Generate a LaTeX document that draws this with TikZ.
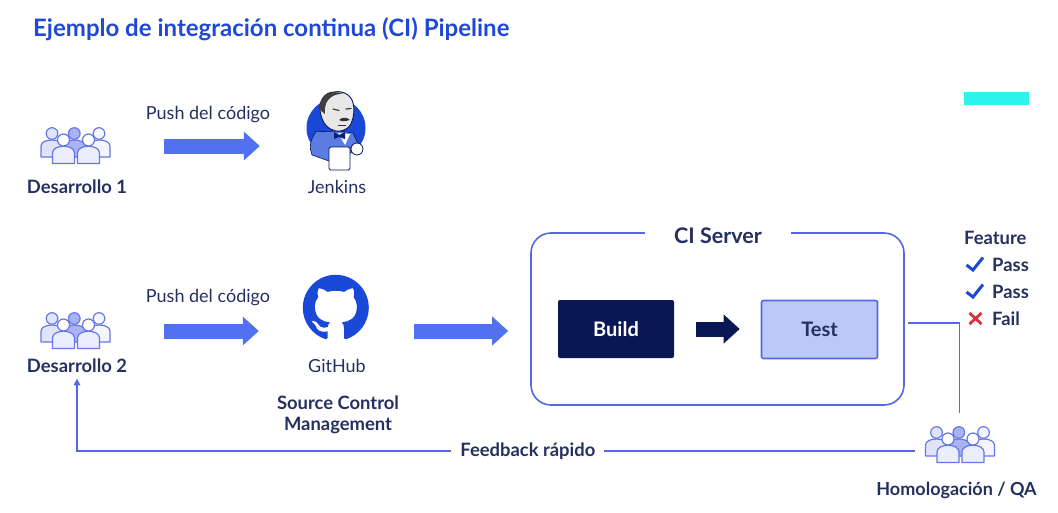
\documentclass[tikz,border=0pt]{standalone}
\usepackage{fontspec}
\setmainfont{Lato}
\usetikzlibrary{arrows.meta, svg.path}

\definecolor{navy}{HTML}{0A1755}
\definecolor{inktext}{HTML}{25305F}
\definecolor{titleblue}{HTML}{1F48D6}
\definecolor{edgeblue}{HTML}{5468E4}
\definecolor{arrowblue}{HTML}{5270F2}
\definecolor{testfill}{HTML}{BCC8F7}
\definecolor{hubblue}{HTML}{1A49D8}
\definecolor{teal}{HTML}{2EF5EC}
\definecolor{failred}{HTML}{D8323A}

\tikzset{
    crowdbody/.style={draw=edgeblue!90, line width=1.2pt, line join=round},
    pics/crowd/.style={code={
        % back row
        \foreach \px/\pfill in {-23/edgeblue!18, 24/edgeblue!6, -0.7/edgeblue!50}{
            \draw[crowdbody, fill=\pfill] (\px-11,11) -- (\px-11,0) .. controls (\px-11,-8) and (\px+11,-8) .. (\px+11,0) -- (\px+11,11) -- cycle;
            \draw[crowdbody, fill=\pfill] (\px,-12.5) circle (5.8);
        }
        % front row
        \foreach \px in {-11.5, 13.5}{
            \draw[crowdbody, fill=white!88!edgeblue] (\px-11,17.5) -- (\px-11,7) .. controls (\px-11,-2) and (\px+11,-2) .. (\px+11,7) -- (\px+11,17.5) -- cycle;
            \draw[crowdbody, fill=white] (\px,-6) circle (6);
        }
    }},
    pics/butler/.style={code={
        \fill[hubblue] (0,0) circle (29.5);
        % jacket
        \draw[navy, line width=.6pt, fill=hubblue!72!white] (-20,3.7) .. controls (-26,12) and (-27,20) .. (-24,27) -- (-7,33) -- (23,18) -- (17,5) -- (4,3) -- cycle;
        % head
        \draw[navy, line width=.9pt, fill=black!9] (-2,-36) .. controls (-12,-36) and (-17,-26) .. (-16,-18) .. controls (-15,-8) and (-10,0) .. (-3,2) .. controls (3,5) and (14,2) .. (16,-7) .. controls (19,-15) and (19,-28) .. (12,-33) .. controls (8,-36) and (3,-37) .. (-2,-36) -- cycle;
        % hair
        \fill[black!75] (-2,-36) .. controls (-12,-36) and (-17,-26) .. (-16,-18) -- (-11,-14) .. controls (-12,-22) and (-10,-29) .. (-1,-33) -- (8,-35) -- cycle;
        \draw[black!80, line width=1.2pt, line cap=round] (-3,-19) -- (3,-17.5) (10,-19) -- (15,-19.5);
        \fill[black!80] (3,-8) .. controls (6,-11) and (11,-11) .. (14,-8) .. controls (10,-7) and (7,-6) .. (3,-8) -- cycle;
        \draw[black!80, line width=.8pt] (2,-3) -- (10,-3);
        % shirt and tie
        \fill[white] (2,5) -- (14,6) -- (9,17) -- cycle;
        \fill[navy!80!hubblue] (-2,4) -- (3,7) -- (9,4) -- (9,11) -- (3,9) -- (-2,11) -- cycle;
        % hand and mug
        \draw[navy, line width=.8pt, fill=white] (21,21) circle (6);
        \draw[navy, line width=.9pt, fill=white, rounded corners=1.5pt] (-7,19) -- (14,19) -- (14,42) -- (-7,42) -- cycle;
    }},
    pics/passmark/.style={code={
        \draw[hubblue, line width=3pt] (-8.5,1) -- (-2,6) -- (8,-6.5);
    }},
    pics/failmark/.style={code={
        \draw[failred, line width=2.8pt] (-6,-5.5) -- (6,5.5) (-6,5.5) -- (6,-5.5);
    }},
}

\begin{document}
\begin{tikzpicture}[x=1pt, y=-1pt, every node/.style={font=\fontsize{18}{21}\selectfont, text=inktext}]
    % Styles
    \tikzstyle{iconbox} = [minimum width=70pt, minimum height=36pt, inner sep=0pt]
    \tikzstyle{caption} = [font=\fontsize{18.4}{21}\selectfont\bfseries, align=center]
    \tikzstyle{bigarrow} = [-{Triangle[length=16pt, width=28pt]}, line width=15pt, arrowblue]
    \tikzstyle{thinline} = [line width=1.6pt, edgeblue]
    \tikzstyle{stagebox} = [minimum width=116pt, minimum height=58pt, rounded corners=2pt, font=\fontsize{20}{23}\selectfont\bfseries]

    \useasboundingbox (0,0) rectangle (1058,512);

    \node[font=\fontsize{24}{28}\selectfont\bfseries, text=titleblue, anchor=west, inner sep=0pt] (title) at (33,29) {Ejemplo de integración continua (CI) Pipeline};
    \fill[teal] (964,92) rectangle (1029,105);

    % Row of Desarrollo 1
    \node[iconbox] (dev1) at (75,146) {};
    \pic at (dev1) {crowd};
    \node[caption] (dev1label) at (77,187) {Desarrollo 1};
    \node (push1) at (208,115) {Push del código};
    \node[minimum width=60pt, minimum height=60pt, inner sep=0pt] (jenkins) at (336,128) {};
    \pic at (jenkins) {butler};
    \node (jenkinslabel) at (337,187) {Jenkins};

    % Row of Desarrollo 2
    \node[iconbox] (dev2) at (75,331) {};
    \pic at (dev2) {crowd};
    \node[caption] (dev2label) at (77,366) {Desarrollo 2};
    \node (push2) at (208,298) {Push del código};
    \node[minimum width=66pt, minimum height=66pt, inner sep=0pt] (github) at (336,308) {};
    \begin{scope}[shift={(github.north west)}, scale=4.125, yscale=-1]
        \fill[hubblue] svg {M8 0C3.58 0 0 3.58 0 8c0 3.54 2.29 6.53 5.47 7.59.4.07.55-.17.55-.38 0-.19-.01-.82-.01-1.49-2.01.37-2.53-.49-2.69-.94-.09-.23-.48-.94-.82-1.13-.28-.15-.68-.52-.01-.53.63-.01 1.08.58 1.23.82.72 1.21 1.87.87 2.33.66.07-.52.28-.87.51-1.07-1.78-.2-3.64-.89-3.64-3.95 0-.87.31-1.59.82-2.15-.08-.2-.36-1.02.08-2.12 0 0 .67-.21 2.2.82.64-.18 1.32-.27 2-.27.68 0 1.36.09 2 .27 1.53-1.04 2.2-.82 2.2-.82.44 1.1.16 1.92.08 2.12.51.56.82 1.27.82 2.15 0 3.07-1.87 3.75-3.65 3.95.29.25.54.73.54 1.48 0 1.07-.01 1.93-.01 2.2 0 .21.15.46.55.38C13.71 14.53 16 11.53 16 8c0-4.42-3.58-8-8-8z};
    \end{scope}
    \node (githublabel) at (337,366) {GitHub};
    \node[caption] (scmlabel) at (338,415) {Source Control\\Management};

    % CI Server
    \node[draw=edgeblue, line width=1.6pt, rounded corners=20pt, minimum width=373pt, minimum height=172pt, inner sep=0pt] (ciserver) at (717.5,319) {};
    \node[fill=white, font=\fontsize{21.5}{25}\selectfont\bfseries, minimum width=146pt, inner sep=2pt] (cititle) at (718,235.5) {CI Server};
    \node[stagebox, fill=navy, text=white] (build) at (616,329) {Build};
    \node[stagebox, fill=testfill, draw=edgeblue, line width=1.6pt] (test) at (819.5,329.5) {Test};

    % Arrows
    \draw[bigarrow, shorten <=54pt, shorten >=46pt] (dev1.east) -- (dev1.east -| jenkins.west);
    \draw[bigarrow, shorten <=54pt, shorten >=44pt] (dev2.east) -- (dev2.east -| github.west);
    \draw[bigarrow, shorten <=45pt, shorten >=22pt] (dev2.east -| github.east) -- (dev2.east -| ciserver.west);
    \draw[bigarrow, navy, shorten <=22pt, shorten >=21pt] (build.east) -- (build.east -| test.west);

    % Feature results
    \node[caption, anchor=west, inner sep=0pt] (feature) at (964,238) {Feature};
    \node[anchor=west, inner sep=0pt, font=\fontsize{18.4}{21}\selectfont\bfseries] (pass1) at (992,265) {Pass};
    \node[anchor=west, inner sep=0pt, font=\fontsize{18.4}{21}\selectfont\bfseries] (pass2) at (992,292) {Pass};
    \node[anchor=west, inner sep=0pt, font=\fontsize{18.4}{21}\selectfont\bfseries] (fail) at (992,319) {Fail};
    \pic at (975,264) {passmark};
    \pic at (975,291) {passmark};
    \pic at (975.5,318.5) {failmark};

    % Homologacion and feedback
    \node[iconbox] (qa) at (959.5,445) {};
    \pic at (qa) {crowd};
    \node[caption, font=\fontsize{18}{21}\selectfont\bfseries] (qalabel) at (956.5,490) {Homologación / QA};
    \coordinate (fbstart) at (915,451);
    \draw[thinline, shorten <=3pt, shorten >=14pt] ([yshift=-4pt]ciserver.east) -| (qa.north);
    \draw[thinline, shorten >=2pt, -{Triangle[length=7pt, width=6.5pt]}] (fbstart) -| node[pos=0.231, fill=white, text=inktext, font=\fontsize{18.4}{21}\selectfont\bfseries, inner xsep=9pt, inner ysep=2pt] (feedback) {Feedback rápido} (dev2label.south);
\end{tikzpicture}
\end{document}
